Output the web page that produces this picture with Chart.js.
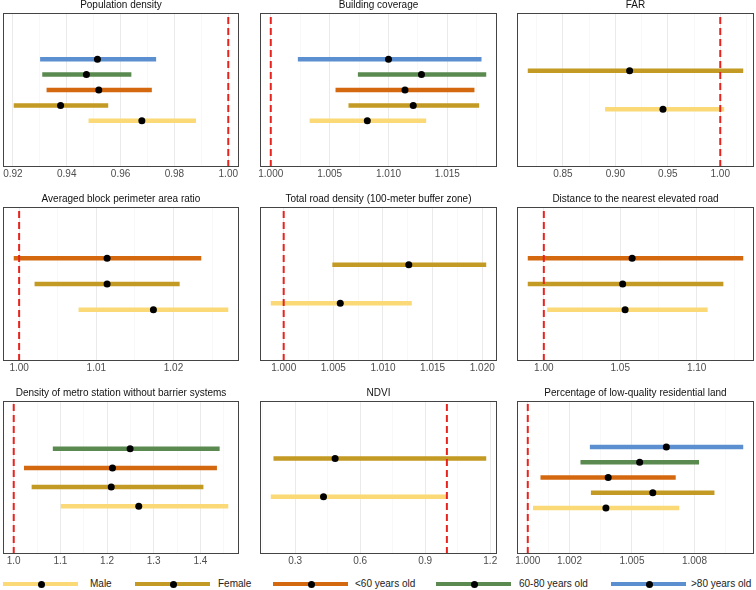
<!DOCTYPE html>
<html>
<head>
<meta charset="utf-8">
<script src="https://cdn.jsdelivr.net/npm/chart.js@4.4.1/dist/chart.umd.min.js"></script>
<style>
  body { margin: 0; width: 756px; height: 590px; overflow: hidden; background: #fff; position: relative;
         font-family: "Liberation Sans", Arial, sans-serif; }
  .panel { position: absolute; }
  .leg { position: absolute; top: 578px; height: 12px; }
  .leg .bar { position: absolute; left: 0; top: 3.5px; width: 75px; height: 4.5px; }
  .leg .dot { position: absolute; left: 34.5px; top: 2.5px; width: 7px; height: 7px; border-radius: 50%; background: #000; }
  .leg .txt { position: absolute; top: 0; font-size: 10px; line-height: 12px; color: #222; white-space: nowrap; }
</style>
</head>
<body>
<script>
// groups, bottom to top in every panel
const groupNames = ['Male', 'Female', '<60 years old', '60-80 years old', '>80 years old'];
const groupColors = ['#FAD976', '#C39A23', '#D4680F', '#5A8A4F', '#5B8FD0'];

// Population density
const popEst  = [0.9679, 0.9377, 0.9519, 0.9473, 0.9514];
const popLow  = [0.9481, 0.9203, 0.9325, 0.9309, 0.9301];
const popHigh = [0.9880, 0.9554, 0.9716, 0.9640, 0.9732];
const popTicks = ['0.92', '0.94', '0.96', '0.98', '1.00'];

// Building coverage
const bldEst  = [1.0082, 1.0121, 1.0114, 1.0128, 1.0100];
const bldLow  = [1.0033, 1.0066, 1.0055, 1.0074, 1.0023];
const bldHigh = [1.0132, 1.0177, 1.0173, 1.0183, 1.0179];
const bldTicks = ['1.000', '1.005', '1.010', '1.015'];

// FAR
const farEst  = [0.9454, 0.9136];
const farLow  = [0.8902, 0.8165];
const farHigh = [1.0038, 1.0219];
const farTicks = ['0.85', '0.90', '0.95', '1.00'];

// Averaged block perimeter area ratio
const blkEst  = [1.0174, 1.0114, 1.0114];
const blkLow  = [1.0077, 1.0020, 0.9993];
const blkHigh = [1.0271, 1.0208, 1.0236];
const blkTicks = ['1.00', '1.01', '1.02'];

// Total road density (100-meter buffer zone)
const roadEst  = [1.0057, 1.0126];
const roadLow  = [0.9987, 1.0049];
const roadHigh = [1.0129, 1.0204];
const roadTicks = ['1.000', '1.005', '1.010', '1.015', '1.020'];

// Distance to the nearest elevated road
const elevEst  = [1.0532, 1.0516, 1.0578];
const elevLow  = [1.0022, 0.9895, 0.9895];
const elevHigh = [1.1072, 1.1175, 1.1305];
const elevTicks = ['1.00', '1.05', '1.10'];

// Density of metro station without barrier systems
const metroEst  = [1.268, 1.209, 1.2117, 1.2495];
const metroLow  = [1.1009, 1.0384, 1.022, 1.0838];
const metroHigh = [1.4599, 1.4066, 1.4356, 1.4414];
const metroTicks = ['1.0', '1.1', '1.2', '1.3', '1.4'];

// NDVI
const ndviEst  = [0.4311, 0.4846];
const ndviLow  = [0.1879, 0.2003];
const ndviHigh = [1.003, 1.1814];
const ndviTicks = ['0.3', '0.6', '0.9', '1.2'];

// Percentage of low-quality residential land
const lowqEst  = [1.00375, 1.0060, 1.00386, 1.00537, 1.00665];
const lowqLow  = [1.00025, 1.00303, 1.00061, 1.00253, 1.00298];
const lowqHigh = [1.00727, 1.00896, 1.0071, 1.00822, 1.01034];
const lowqTicks = ['1.000', '1.002', '1.005', '1.008'];

const panels = [
  { title: 'Population density', est: popEst, low: popLow, high: popHigh, ticks: popTicks },
  { title: 'Building coverage', est: bldEst, low: bldLow, high: bldHigh, ticks: bldTicks },
  { title: 'FAR', est: farEst, low: farLow, high: farHigh, ticks: farTicks },
  { title: 'Averaged block perimeter area ratio', est: blkEst, low: blkLow, high: blkHigh, ticks: blkTicks },
  { title: 'Total road density (100-meter buffer zone)', est: roadEst, low: roadLow, high: roadHigh, ticks: roadTicks },
  { title: 'Distance to the nearest elevated road', est: elevEst, low: elevLow, high: elevHigh, ticks: elevTicks },
  { title: 'Density of metro station without barrier systems', est: metroEst, low: metroLow, high: metroHigh, ticks: metroTicks },
  { title: 'NDVI', est: ndviEst, low: ndviLow, high: ndviHigh, ticks: ndviTicks },
  { title: 'Percentage of low-quality residential land', est: lowqEst, low: lowqLow, high: lowqHigh, ticks: lowqTicks }
];

// panel boxes
const colLeft = [3, 260, 517];
const colWidth = [236, 237, 237];
const rowTop = [13, 207, 401];
const rowHeight = [154, 154, 153];

Chart.defaults.font.family = '"Liberation Sans", Arial, sans-serif';

const boxBorder = {
  id: 'boxBorder',
  afterDatasetsDraw(chart) {
    const ca = chart.chartArea;
    const ctx = chart.ctx;
    ctx.save();
    ctx.strokeStyle = '#444';
    ctx.lineWidth = 1;
    ctx.strokeRect(ca.left + 0.5, ca.top + 0.5, ca.width - 1, ca.height - 1);
    ctx.restore();
  }
};

function gridTicks(labels, xMin, xMax) {
  const vals = labels.map(Number);
  const out = [];
  const first = vals[1] - vals[0];
  const last = vals[vals.length - 1] - vals[vals.length - 2];
  out.push({ value: vals[0] - first / 2, lbl: '', minor: true });
  vals.forEach((v, i) => {
    out.push({ value: v, lbl: labels[i], minor: false });
    if (i < vals.length - 1) out.push({ value: (v + vals[i + 1]) / 2, lbl: '', minor: true });
  });
  out.push({ value: vals[vals.length - 1] + last / 2, lbl: '', minor: true });
  return out.filter(t => t.value >= xMin && t.value <= xMax);
}

function makeChart(canvas, p, xMin, xMax, yMin, yMax) {
  const datasets = [];
  p.est.forEach((e, i) => {
    datasets.push({
      data: [{ x: p.low[i], y: i + 1 }, { x: p.high[i], y: i + 1 }],
      showLine: true,
      borderColor: groupColors[i],
      borderWidth: 4.5,
      pointRadius: 0,
      pointHoverRadius: 0,
      order: 3
    });
  });
  datasets.push({
    data: p.est.map((e, i) => ({ x: e, y: i + 1 })),
    backgroundColor: '#000',
    borderWidth: 0,
    pointRadius: 3.5,
    order: 2
  });
  datasets.push({
    data: [{ x: 1, y: yMin }, { x: 1, y: yMax }],
    showLine: true,
    borderColor: '#E8231E',
    borderWidth: 2,
    borderDash: [7, 4],
    pointRadius: 0,
    pointHoverRadius: 0,
    order: 1
  });

  const tickList = gridTicks(p.ticks, xMin, xMax);

  return new Chart(canvas.getContext('2d'), {
    type: 'scatter',
    data: { datasets },
    options: {
      responsive: false,
      animation: false,
      layout: { padding: { left: 20, right: 20, top: 0, bottom: 0 } },
      plugins: {
        legend: { display: false },
        tooltip: { enabled: false },
        title: {
          display: true,
          text: p.title,
          color: '#111',
          font: { size: 10, weight: 'normal' },
          padding: { top: 0, bottom: 2 }
        }
      },
      scales: {
        x: {
          type: 'linear',
          min: xMin,
          max: xMax,
          afterBuildTicks: axis => { axis.ticks = tickList.map(t => ({ ...t })); },
          ticks: {
            autoSkip: false,
            maxRotation: 0,
            padding: 1,
            color: '#4d4d4d',
            font: { size: 10 },
            callback: (v, i, ticks) => ticks[i].lbl
          },
          grid: {
            drawTicks: false,
            color: ctx => (ctx.tick && ctx.tick.minor) ? '#f3f3f3' : '#e8e8e8',
            lineWidth: ctx => (ctx.tick && ctx.tick.minor) ? 0.6 : 0.9
          },
          border: { display: false }
        },
        y: { type: 'linear', display: false, min: yMin, max: yMax }
      }
    },
    plugins: [boxBorder]
  });
}

panels.forEach((p, k) => {
  const col = k % 3, row = Math.floor(k / 3);
  const boxL = colLeft[col], boxT = rowTop[row], boxW = colWidth[col], boxH = rowHeight[row];
  const n = p.est.length;
  const lo = Math.min(1, ...p.low), hi = Math.max(1, ...p.high);
  const pad = (hi - lo) * 0.05;
  const xMin = lo - pad, xMax = hi + pad;
  const yMid = (n + 1) / 2;
  const yMin = yMid - n, yMax = yMid + n;

  const wrap = document.createElement('div');
  wrap.className = 'panel';
  document.body.appendChild(wrap);
  let canvas = document.createElement('canvas');
  canvas.width = boxW + 40;
  canvas.height = boxH + 30;
  wrap.appendChild(canvas);
  let chart = makeChart(canvas, p, xMin, xMax, yMin, yMax);
  const diff = boxH - chart.chartArea.height;
  if (diff !== 0) {
    chart.destroy();
    wrap.removeChild(canvas);
    canvas = document.createElement('canvas');
    canvas.width = boxW + 40;
    canvas.height = boxH + 30 + diff;
    wrap.appendChild(canvas);
    chart = makeChart(canvas, p, xMin, xMax, yMin, yMax);
  }
  wrap.style.left = (boxL - chart.chartArea.left) + 'px';
  wrap.style.top = (boxT - chart.chartArea.top) + 'px';
});

// legend: key start and label start for each group
const legendLeft = [3, 135, 273, 436, 611];
const legendText = [90, 218, 355, 519, 691];
groupNames.forEach((name, i) => {
  const item = document.createElement('div');
  item.className = 'leg';
  item.style.left = legendLeft[i] + 'px';
  item.innerHTML = '<div class="bar" style="background:' + groupColors[i] + '"></div>' +
    '<div class="dot"></div><div class="txt"></div>';
  const txt = item.querySelector('.txt');
  txt.textContent = name;
  txt.style.left = (legendText[i] - legendLeft[i]) + 'px';
  document.body.appendChild(item);
});
</script>
</body>
</html>
